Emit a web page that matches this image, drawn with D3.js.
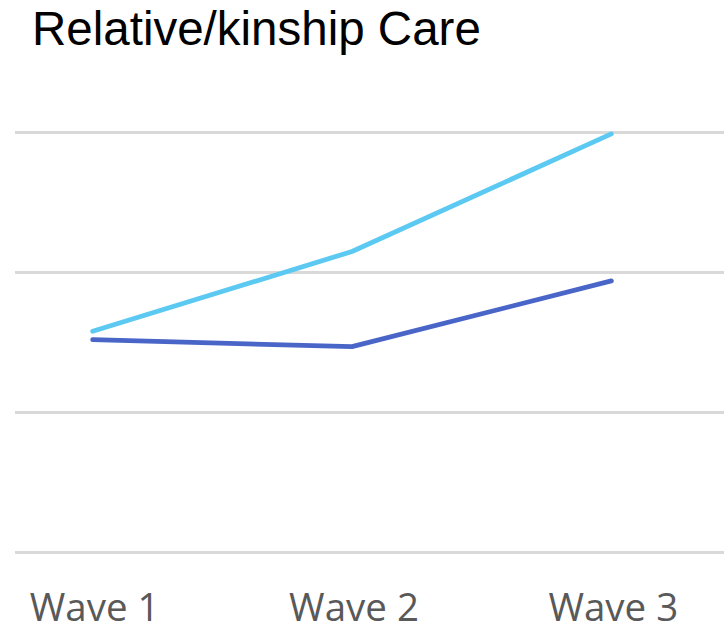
<!DOCTYPE html>
<html>
<head>
<meta charset="utf-8">
<script src="https://cdn.jsdelivr.net/npm/d3@7/dist/d3.min.js"></script>
<style>
  html, body { margin: 0; padding: 0; background: #fff; }
  svg { display: block; }
</style>
</head>
<body>
<svg id="chart" width="724" height="625"></svg>
<script>
// Relative/kinship care, share by survey wave (%)
const waves = ["Wave 1", "Wave 2", "Wave 3"];
const seriesLight = [15.8, 21.5, 29.9];
const seriesDark = [15.2, 14.7, 19.4];
const yTicks = [0, 10, 20, 30];

const series = [
  { values: seriesLight, color: "#5BC9F2" },
  { values: seriesDark, color: "#4A65C8" }
];

const W = 724, H = 625;
const svg = d3.select("#chart");

const x = d3.scaleBand().domain(waves).range([-37, 741]).padding(0);
const y = d3.scaleLinear().domain([0, 30]).range([552.5, 132.5]);

// Title
svg.append("text")
  .attr("x", 32)
  .attr("y", 45)
  .attr("font-family", "'Liberation Sans', Arial, sans-serif")
  .attr("font-size", 47.5)
  .attr("fill", "#000")
  .text("Relative/kinship Care");

// Horizontal gridlines
svg.append("g")
  .selectAll("line")
  .data(yTicks)
  .join("line")
  .attr("x1", 15)
  .attr("x2", W)
  .attr("y1", d => y(d))
  .attr("y2", d => y(d))
  .attr("stroke", "#D9D9D9")
  .attr("stroke-width", 2.8);

// Category axis labels
const xAxis = d3.axisBottom(x).tickSize(0).tickPadding(0);
const gx = svg.append("g")
  .attr("transform", "translate(2,621)")
  .call(xAxis);
gx.select(".domain").remove();
gx.selectAll("text")
  .attr("font-family", "'Open Sans', sans-serif")
  .attr("font-size", 38.5)
  .attr("fill", "#595959")
  .attr("dy", 0);

// Series lines
const line = d3.line()
  .x((d, i) => x(waves[i]) + x.bandwidth() / 2)
  .y(d => y(d));

svg.append("g")
  .selectAll("path")
  .data(series)
  .join("path")
  .attr("d", s => line(s.values))
  .attr("fill", "none")
  .attr("stroke", s => s.color)
  .attr("stroke-width", 4.8)
  .attr("stroke-linecap", "round")
  .attr("stroke-linejoin", "round");
</script>
</body>
</html>
